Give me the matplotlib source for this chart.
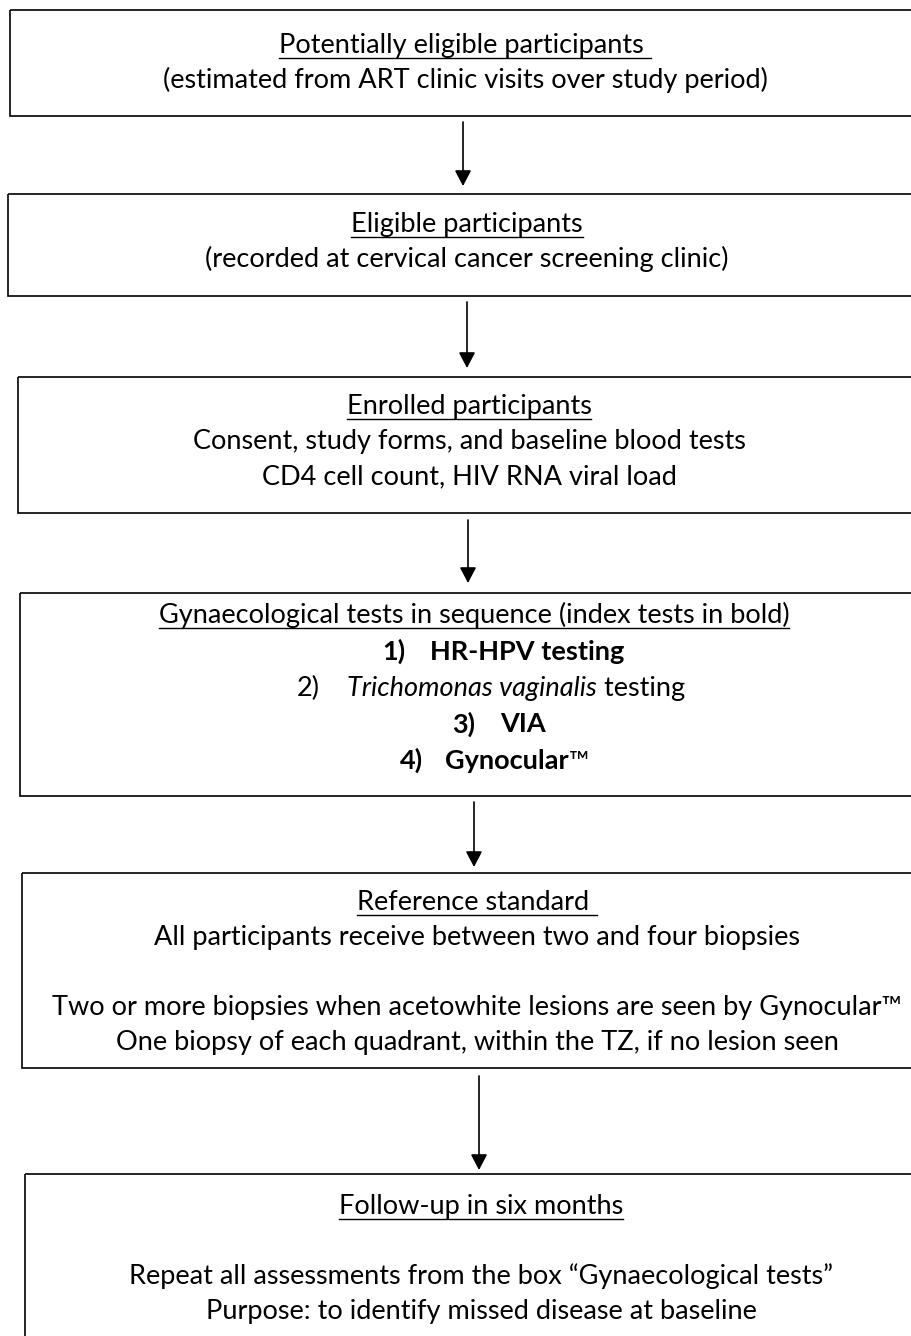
import matplotlib
matplotlib.use("Agg")
import matplotlib.pyplot as plt
from matplotlib.patches import Rectangle

# ---- content of the flow diagram ----
headings = [
    "Potentially eligible participants ",
    "Eligible participants",
    "Enrolled participants",
    "Gynaecological tests in sequence (index tests in bold)",
    "Reference standard ",
    "Follow-up in six months",
]
box1_lines = ["(estimated from ART clinic visits over study period)"]
box2_lines = ["(recorded at cervical cancer screening clinic)"]
box3_lines = ["Consent, study forms, and baseline blood tests",
              "CD4 cell count, HIV RNA viral load"]
test_numbers = ["1)", "2)", "3)", "4)"]
test_names = ["HR-HPV testing", "Trichomonas vaginalis testing", "VIA", "Gynocular\u2122"]
index_test = [True, False, True, True]
species = "Trichomonas vaginalis"
box5_lines = ["All participants receive between two and four biopsies",
              "",
              "Two or more biopsies when acetowhite lesions are seen by Gynocular\u2122",
              "One biopsy of each quadrant, within the TZ, if no lesion seen"]
box6_lines = ["", "Repeat all assessments from the box \u201cGynaecological tests\u201d",
              "Purpose: to identify missed disease at baseline"]

# ---- layout (pixels) ----
W, H = 912, 1336
FONT = ["Lato", "DejaVu Sans"]
FS = 19.5
LINE = 35
box_left = [10, 8, 18, 20, 22, 25]
box_top = [10, 194, 377, 593, 873, 1174]
box_bottom = [116, 296, 513, 796, 1068, 1350]
box_cx = [465, 467, 469, 474, 477, 481]
first_baseline = [53, 232, 414, 623, 910, 1214]
num_x = [382, 297, 452, 400]
name_x = [430, 347, 500, 445]
arrows = [(463, 122, 186), (467, 302, 368), (468, 520, 583),
          (474, 802, 867), (479, 1076, 1170)]

fig = plt.figure(figsize=(W / 100, H / 100), dpi=100)
ax = fig.add_axes([0, 0, 1, 1])
ax.set_xlim(0, W)
ax.set_ylim(H, 0)
ax.axis("off")
renderer = fig.canvas.get_renderer()


def put_line(cx, y, segs, underline=False, left=None):
    # segs: (text, weight, style); centred on cx unless left is given
    texts, widths = [], []
    for s, w, st in segs:
        t = ax.text(0, y, s, fontsize=FS, fontweight=w, fontstyle=st,
                    family=FONT, va="baseline", ha="left")
        widths.append(t.get_window_extent(renderer).width)
        texts.append(t)
    total = sum(widths)
    x = cx - total / 2 if left is None else left
    x0 = x
    for t, w in zip(texts, widths):
        t.set_x(x)
        x += w
    if underline:
        ax.plot([x0, x0 + total], [y + 5, y + 5], color="black", lw=1.0)


def plain(s):
    return [(s, "normal", "normal")]


for i in range(6):
    ax.add_patch(Rectangle((box_left[i], box_top[i]), 940 - box_left[i],
                           box_bottom[i] - box_top[i], fill=False,
                           edgecolor="black", lw=1.2))
    put_line(box_cx[i], first_baseline[i], plain(headings[i]), underline=True)

body = [box1_lines, box2_lines, box3_lines, None, box5_lines, box6_lines]
for i, lines in enumerate(body):
    if lines is None:
        continue
    for k, s in enumerate(lines):
        if s:
            put_line(box_cx[i], first_baseline[i] + LINE * (k + 1), plain(s))

# gynaecological tests list with index tests in bold
for k, (num, name) in enumerate(zip(test_numbers, test_names)):
    w = "bold" if index_test[k] else "normal"
    y = first_baseline[3] + 36.5 * (k + 1)
    put_line(0, y, [(num, w, "normal")], left=num_x[k])
    if species in name:
        segs = [(species, "normal", "italic"), (name.replace(species, ""), "normal", "normal")]
    elif name.endswith("\u2122"):
        segs = [(name[:-1], w, "normal"), ("\u2122", "normal", "normal")]
    else:
        segs = [(name, w, "normal")]
    put_line(0, y, segs, left=name_x[k])

for x, y0, y1 in arrows:
    ax.annotate("", xy=(x, y1), xytext=(x, y0),
                arrowprops=dict(arrowstyle="-|>,head_length=0.95,head_width=0.5",
                                color="black", lw=1.2, shrinkA=0, shrinkB=0))

fig.savefig("out.png", dpi=100, facecolor="white")
